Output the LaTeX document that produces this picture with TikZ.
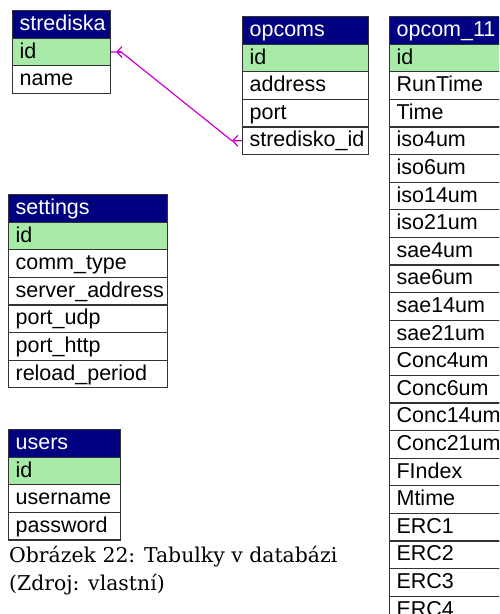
\documentclass[tikz,border=0pt]{standalone}
\usepackage{fontspec}
\setmainfont{Liberation Sans}
\newfontfamily\capfont{DejaVu Serif}
\usetikzlibrary{arrows.meta}
\definecolor{headblue}{RGB}{0,0,128}
\definecolor{keygreen}{RGB}{168,234,168}
\definecolor{relpink}{RGB}{204,0,204}
\hfuzz=30pt

\tikzset{
  tabcell/.style={draw=black!80, line width=1.2pt, anchor=north west,
    minimum height=27.6pt, inner xsep=7pt, inner ysep=0pt,
    text height=16pt, text depth=4pt, align=left,
    font=\fontsize{21.5}{24}\selectfont},
  tabhead/.style={tabcell, fill=headblue, text=white},
  keyrow/.style={tabcell, fill=keygreen},
  tabrow/.style={tabcell, fill=white},
  rel/.style={draw=relpink, line width=1.2pt}
}

% #1 name, #2 x, #3 y, #4 width, #5 title, #6 fields after id
\newcommand{\dbtable}[6]{%
  \pgfmathsetmacro{\tw}{#4-14}
  \node[tabhead, text width=\tw pt] (#1) at (#2,#3) {#5};
  \node[keyrow, text width=\tw pt] (#1-1) at (#2,#3+27.6) {id};
  \foreach \f [count=\i from 2] in {#6}
    \node[tabrow, text width=\tw pt] (#1-\i) at (#2,#3+\i*27.6) {\f};
}

\begin{document}
\begin{tikzpicture}[x=1pt,y=-1pt]
\clip (0,0) rectangle (499,614);

\dbtable{stred}{12}{10}{98}{strediska}{name}
\dbtable{opcoms}{242}{16}{126}{opcoms}{address,port,stredisko\_id}
\dbtable{opcom}{389}{16}{126}{opcom\_11}{RunTime,Time,iso4um,iso6um,iso14um,iso21um,sae4um,sae6um,sae14um,sae21um,Conc4um,Conc6um,Conc14um,Conc21um,FIndex,Mtime,ERC1,ERC2,ERC3,ERC4}
\dbtable{sett}{8}{194}{159}{settings}{comm\_type,server\_address,port\_udp,port\_http,reload\_period}
\dbtable{users}{8}{429}{112}{users}{username,password}

% relation stredisko_id -> id
\coordinate (r1) at ([xshift=10pt]stred-1.east);
\coordinate (r2) at ([xshift=-10pt]opcoms-4.west);
\draw[rel] (stred-1.east) -- (r1) -- (r2) -- (opcoms-4.west);
\draw[rel, -{Straight Barb[length=5pt,width=11pt]}] (r1) -- ++(-5,0);
\draw[rel, -{Straight Barb[length=5pt,width=11pt]}] ([xshift=5pt]r2) -- (r2);

\node[anchor=base west, align=left, inner sep=0pt,
  font=\capfont\fontsize{20.4}{28}\selectfont] (cap) at (9,590)
  {Obrázek 22: Tabulky v databázi\\(Zdroj: vlastní)};
\end{tikzpicture}
\end{document}
